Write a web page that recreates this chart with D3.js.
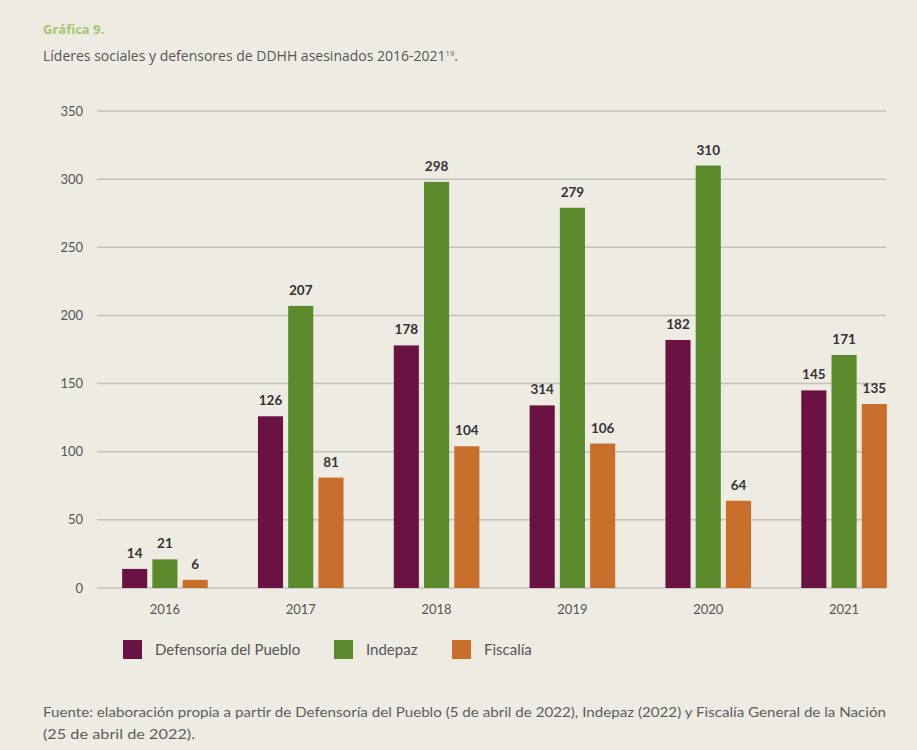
<!DOCTYPE html>
<html>
<head>
<meta charset="utf-8">
<script src="https://cdn.jsdelivr.net/npm/d3@7"></script>
<style>
  body { margin: 0; background: #eeebe3; }
  svg { display: block; font-family: Lato, "Open Sans", sans-serif; }
</style>
</head>
<body>
<svg id="svg"></svg>
<script>
const years = ['2016', '2017', '2018', '2019', '2020', '2021'];
const seriesNames = ['Defensoría del Pueblo', 'Indepaz', 'Fiscalía'];
const defensoria = [14, 126, 178, 134, 182, 145];
const indepaz = [21, 207, 298, 279, 310, 171];
const fiscalia = [6, 81, 104, 106, 64, 135];
// labels as printed in the source (2019 Defensoría is printed as 314)
const defensoriaLabels = ['14', '126', '178', '314', '182', '145'];
const yTicks = [0, 50, 100, 150, 200, 250, 300, 350];

const colors = ['#6b1244', '#5b8a2d', '#c96f2c'];
const width = 917;
const height = 750;

const svg = d3.select('#svg')
  .attr('width', width)
  .attr('height', height);

svg.append('rect')
  .attr('width', width)
  .attr('height', height)
  .attr('fill', '#eeebe3');

svg.append('text')
  .attr('x', 43).attr('y', 34)
  .attr('font-size', 13)
  .attr('font-weight', 'bold')
  .attr('fill', '#a3c86f')
  .attr('font-family', '"Open Sans", sans-serif')
  .text('Gráfica 9.');

const sub = svg.append('text')
  .attr('x', 43).attr('y', 61)
  .attr('font-size', 14)
  .attr('fill', '#555')
  .attr('font-family', '"Open Sans", sans-serif')
  .text('Líderes sociales y defensores de DDHH asesinados 2016-2021');
sub.append('tspan')
  .attr('font-size', 7.5)
  .attr('dy', -5)
  .text('19');
sub.append('tspan')
  .attr('dy', 5)
  .text('.');

const y = d3.scaleLinear()
  .domain([0, 350])
  .range([588, 111]);

const x0 = d3.scaleBand()
  .domain(years)
  .range([97, 912])
  .paddingInner(0.37)
  .paddingOuter(0.185);

const x1 = d3.scaleBand()
  .domain(seriesNames)
  .range([0, x0.bandwidth()])
  .paddingInner(0.17);

// grid
svg.append('g')
  .selectAll('line')
  .data(yTicks)
  .enter()
  .append('line')
  .attr('x1', 97)
  .attr('x2', 886)
  .attr('y1', d => y(d))
  .attr('y2', d => y(d))
  .attr('stroke', '#c2c0bb')
  .attr('stroke-width', 1.5);

svg.append('g')
  .selectAll('text')
  .data(yTicks)
  .enter()
  .append('text')
  .attr('x', 83)
  .attr('y', d => y(d))
  .attr('dy', '0.35em')
  .attr('text-anchor', 'end')
  .attr('font-size', 13)
  .attr('fill', '#555')
  .text(d => d);

const data = years.map((yr, i) => ({
  year: yr,
  values: [
    { name: seriesNames[0], value: defensoria[i], label: defensoriaLabels[i] },
    { name: seriesNames[1], value: indepaz[i], label: String(indepaz[i]) },
    { name: seriesNames[2], value: fiscalia[i], label: String(fiscalia[i]) }
  ]
}));

const groups = svg.append('g')
  .selectAll('g')
  .data(data)
  .enter()
  .append('g')
  .attr('transform', d => 'translate(' + x0(d.year) + ',0)');

groups.selectAll('rect')
  .data(d => d.values)
  .enter()
  .append('rect')
  .attr('x', d => x1(d.name))
  .attr('width', x1.bandwidth())
  .attr('y', d => y(d.value))
  .attr('height', d => y(0) - y(d.value))
  .attr('fill', (d, i) => colors[i]);

groups.selectAll('text.value')
  .data(d => d.values)
  .enter()
  .append('text')
  .attr('class', 'value')
  .attr('x', d => x1(d.name) + x1.bandwidth() / 2)
  .attr('y', d => y(d.value) - 11)
  .attr('text-anchor', 'middle')
  .attr('font-size', 13.5)
  .attr('font-weight', 'bold')
  .attr('fill', '#333')
  .text(d => d.label);

svg.append('g')
  .selectAll('text')
  .data(years)
  .enter()
  .append('text')
  .attr('x', d => x0(d) + x0.bandwidth() / 2)
  .attr('y', 614)
  .attr('text-anchor', 'middle')
  .attr('font-size', 13)
  .attr('fill', '#555')
  .text(d => d);

// legend
const legendX = [123, 334, 452];
const legend = svg.append('g')
  .selectAll('g')
  .data(seriesNames)
  .enter()
  .append('g')
  .attr('transform', (d, i) => 'translate(' + legendX[i] + ',640)');

legend.append('rect')
  .attr('width', 19)
  .attr('height', 19)
  .attr('fill', (d, i) => colors[i]);

legend.append('text')
  .attr('x', 32)
  .attr('y', 10)
  .attr('dy', '0.35em')
  .attr('font-size', 15)
  .attr('fill', '#555')
  .text(d => d);

svg.append('text')
  .attr('x', 43).attr('y', 717)
  .attr('font-size', 13)
  .attr('fill', '#5c5c5c')
  .attr('textLength', 843)
  .attr('lengthAdjust', 'spacingAndGlyphs')
  .text('Fuente: elaboración propia a partir de Defensoría del Pueblo (5 de abril de 2022), Indepaz (2022) y Fiscalía General de la Nación');

svg.append('text')
  .attr('x', 43).attr('y', 739)
  .attr('font-size', 13)
  .attr('fill', '#5c5c5c')
  .attr('textLength', 152)
  .attr('lengthAdjust', 'spacingAndGlyphs')
  .text('(25 de abril de 2022).');
</script>
</body>
</html>
